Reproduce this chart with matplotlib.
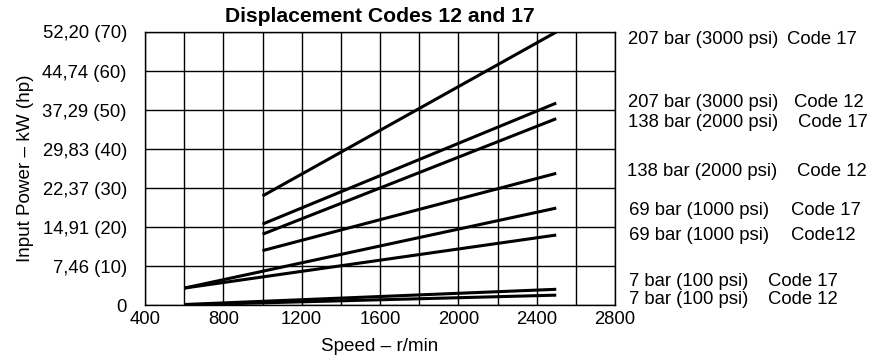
import matplotlib
matplotlib.use("Agg")
import matplotlib.pyplot as plt
import numpy as np

plt.rcParams['font.family'] = ['Liberation Sans', 'DejaVu Sans']

# speed (r/min) and input power (hp) at the ends of each line
speed_start = [1000, 1000, 1000, 1000, 600, 600, 600, 600]
speed_end = [2500, 2500, 2500, 2500, 2500, 2500, 2500, 2500]
power_start = [28.0, 20.8, 18.2, 14.0, 4.4, 4.4, 0.2, 0.1]
power_end = [70.0, 51.8, 47.8, 33.8, 24.9, 18.0, 4.1, 2.6]

# right-hand labels: pressure text, code text, y position (hp)
label_bar = ["207 bar (3000 psi)", "207 bar (3000 psi)", "138 bar (2000 psi)",
             "138 bar (2000 psi)", "69 bar (1000 psi)", "69 bar (1000 psi)",
             "7 bar (100 psi)", "7 bar (100 psi)"]
label_code = ["Code 17", "Code 12", "Code 17", "Code 12", "Code 17", "Code12",
              "Code 17", "Code 12"]
label_y = [68.0, 51.9, 46.8, 34.2, 24.4, 18.0, 6.1, 1.5]
label_x_bar = [628, 628, 628, 627, 629, 629, 629, 629]
label_x_code = [787, 794, 798, 797, 791, 791, 768, 768]

hp_ticks = [0, 10, 20, 30, 40, 50, 60, 70]
kw_labels = ["0", "7,46 (10)", "14,91 (20)", "22,37 (30)", "29,83 (40)",
             "37,29 (50)", "44,74 (60)", "52,20 (70)"]
speed_ticks = [400, 800, 1200, 1600, 2000, 2400, 2800]

fs = 13.3

fig = plt.figure(figsize=(8.75, 3.6), dpi=100)
ax = fig.add_axes([145/875, 1-305.3/360, 470/875, 273.3/360])

for x0, x1, y0, y1 in zip(speed_start, speed_end, power_start, power_end):
    ax.plot([x0, x1], [y0, y1], color='black', lw=2.2, solid_capstyle='butt')

ax.set_xlim(400, 2800)
ax.set_ylim(0, 70)
ax.set_xticks(speed_ticks)
ax.set_xticks(np.arange(400, 2801, 200), minor=True)
ax.set_yticks(hp_ticks)
ax.set_yticklabels(kw_labels)
ax.grid(which='both', color='black', lw=1)
ax.set_axisbelow(True)
ax.tick_params(which='both', length=0, labelsize=fs)
ax.tick_params(axis='y', pad=13)
ax.tick_params(axis='x', pad=4)
for s in ax.spines.values():
    s.set_linewidth(1)

ax.set_title("Displacement Codes 12 and 17", fontsize=15.2, fontweight='bold', pad=7)
ax.set_xlabel("Speed \u2013 r/min", fontsize=13.6, labelpad=7)
ax.set_ylabel("Input Power \u2013 kW (hp)", fontsize=13.6, labelpad=6)

trans = ax.get_yaxis_transform()
for b, c, y, xb, xc in zip(label_bar, label_code, label_y, label_x_bar, label_x_code):
    ax.text((xb - 145) / 470, y, b, transform=trans, ha='left', va='center',
            fontsize=fs, clip_on=False)
    ax.text((xc - 145) / 470, y, c, transform=trans, ha='left', va='center',
            fontsize=fs, clip_on=False)

fig.savefig("out.png", dpi=100)
